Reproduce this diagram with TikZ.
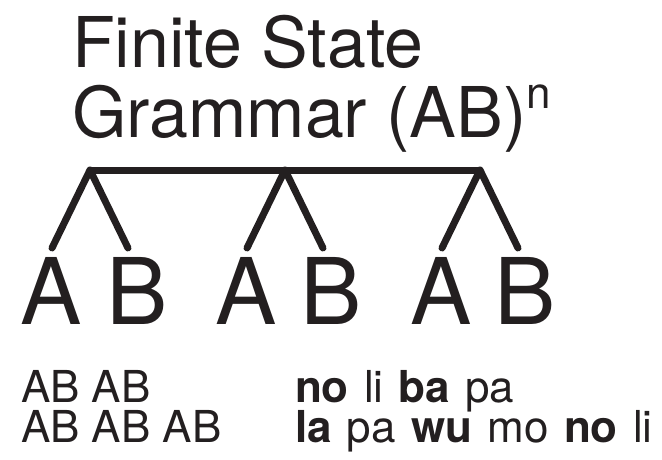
\documentclass[tikz,border=0pt]{standalone}
\usepackage{fontspec}
\setmainfont{TeX Gyre Heros}
\newfontfamily\sylfont[WordSpace=1.25]{TeX Gyre Heros}
\definecolor{ink}{HTML}{231F20}

\begin{document}
\begin{tikzpicture}[x=1pt, y=-1pt,
    every node/.style={inner sep=0pt, outer sep=0pt, text=ink},
    heading/.style={anchor=base west, font=\fontsize{70}{70}\selectfont},
    symbol/.style={anchor=base, font=\fontsize{92}{92}\selectfont},
    sample/.style={anchor=base west, font=\fontsize{44}{44}\selectfont},
    syllables/.style={anchor=base west, font=\sylfont\fontsize{44}{44}\selectfont},
    branch/.style={draw=ink, line width=7pt, line cap=round, line join=round}]
    \useasboundingbox (0,0) rectangle (662,459);

    % Title
    \node[heading] (title1) at (72,67) {Finite State};
    \node[heading] (title2) at (72,137) {Grammar (AB)\raisebox{29pt}{\fontsize{44}{44}\selectfont n}};

    % Tree
    \coordinate (t1) at (90,170);
    \coordinate (t2) at (285,170);
    \coordinate (t3) at (480,170);
    \coordinate (l1) at (52,248);
    \coordinate (r1) at (128,248);
    \coordinate (l2) at (247,248);
    \coordinate (r2) at (323,248);
    \coordinate (l3) at (442,248);
    \coordinate (r3) at (518,248);
    \draw[branch, line cap=butt] (t1) -- (t3);
    \draw[branch] (l1) -- (t1) -- (r1);
    \draw[branch] (l2) -- (t2) -- (r2);
    \draw[branch] (l3) -- (t3) -- (r3);

    % Terminals
    \node[symbol] (a1) at (51.5,324) {A};
    \node[symbol] (b1) at (137,324) {B};
    \node[symbol] (a2) at (246,324) {A};
    \node[symbol] (b2) at (331,324) {B};
    \node[symbol] (a3) at (441,324) {A};
    \node[symbol] (b3) at (525,324) {B};

    % Strings
    \node[sample] (seq1) at (21,402) {AB AB};
    \node[sample] (seq2) at (21,442) {AB AB AB};
    \node[syllables] (syl1) at (295,402) {\textbf{no} li \textbf{ba} pa};
    \node[syllables] (syl2) at (295,442) {\textbf{la} pa \textbf{wu} mo \textbf{no} li};
\end{tikzpicture}
\end{document}
